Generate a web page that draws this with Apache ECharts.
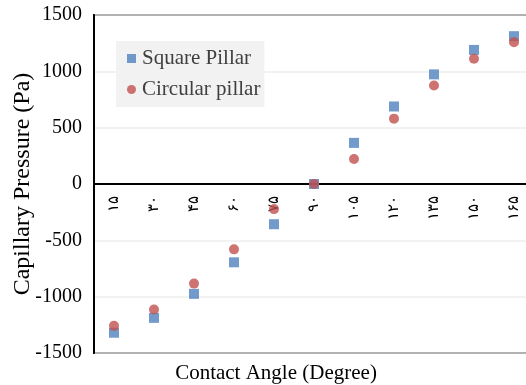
<!DOCTYPE html>
<html>
<head>
<meta charset="utf-8">
<script src="https://cdn.jsdelivr.net/npm/echarts@6/dist/echarts.min.js"></script>
<style>
  html, body { margin: 0; padding: 0; background: #fff; }
  #chart { width: 526px; height: 385px; }
</style>
</head>
<body>
<div id="chart"></div>
<script>
// 接触角 (波斯数字标签)
const angles = ['۱۵', '۳۰', '۴۵', '۶۰', '۷۵', '۹۰', '۱۰۵', '۱۲۰', '۱۳۵', '۱۵۰', '۱۶۵'];
const squarePillar = [-1320, -1188, -975, -695, -357, 0, 365, 688, 973, 1190, 1312];
const circularPillar = [-1259, -1114, -884, -580, -223, 0, 222, 580, 875, 1112, 1259];
const yTicks = { min: -1500, max: 1500, step: 500 };

const chart = echarts.init(document.getElementById('chart'));
const serif = '"Liberation Serif", "Times New Roman", serif';

const gridTop = 15, gridBottom = 32;
const plotH = 385 - gridTop - gridBottom;
// x 轴放在 y=0 的位置 (用 offset 上移)
const zeroOffset = -plotH * (0 - yTicks.min) / (yTicks.max - yTicks.min);

const option = {
    backgroundColor: '#fff',
    animation: false,
    grid: {
        left: 94, right: -8, top: gridTop, bottom: gridBottom,
        outerBoundsMode: 'none',
        show: true, borderColor: '#000', borderWidth: 2, backgroundColor: 'transparent'
    },
    legend: {
        orient: 'vertical',
        left: 116, top: 41,
        backgroundColor: '#f2f2f2',
        padding: [7, 4, 7, 11],
        itemGap: 10,
        itemWidth: 9, itemHeight: 9,
        textStyle: { fontFamily: serif, fontSize: 21, color: '#404040', padding: [0, 0, 0, 1] },
        data: [
            { name: 'Square Pillar', icon: 'rect' },
            { name: 'Circular pillar', icon: 'circle' }
        ]
    },
    xAxis: {
        type: 'category',
        data: angles,
        boundaryGap: true,
        position: 'bottom',
        offset: zeroOffset,
        axisLine: { onZero: false, lineStyle: { color: '#000', width: 2 } },
        axisTick: { alignWithLabel: true, length: 5, lineStyle: { color: '#000', width: 2 } },
        axisLabel: { rotate: 90, margin: 12, fontSize: 15, color: '#000', interval: 0 },
        splitLine: { show: false }
    },
    yAxis: {
        type: 'value',
        min: yTicks.min, max: yTicks.max, interval: yTicks.step,
        axisLine: { show: true, lineStyle: { color: '#000', width: 2 } },
        axisTick: { show: false },
        axisLabel: { fontFamily: serif, fontSize: 20, color: '#000', margin: 12, formatter: v => String(v) },
        splitLine: { lineStyle: { color: '#eeeeee', width: 1.5 } }
    },
    graphic: [
        {
            type: 'text', x: 276, y: 373,
            style: { text: 'Contact Angle (Degree)', font: '21px ' + serif, fill: '#000', textAlign: 'center', textVerticalAlign: 'middle' }
        },
        {
            type: 'text', x: 23, y: 184, rotation: Math.PI / 2,
            style: { text: 'Capillary Pressure (Pa)', font: '24px ' + serif, fill: '#000', textAlign: 'center', textVerticalAlign: 'middle' }
        }
    ],
    series: [
        {
            name: 'Square Pillar', type: 'scatter', data: squarePillar,
            symbol: 'rect', symbolSize: 10,
            itemStyle: { color: '#4f81bd' }, z: 2
        },
        {
            name: 'Circular pillar', type: 'scatter', data: circularPillar,
            symbol: 'circle', symbolSize: 10,
            itemStyle: { color: '#c0504d' }, z: 3
        }
    ]
};
chart.setOption(option);
</script>
</body>
</html>
